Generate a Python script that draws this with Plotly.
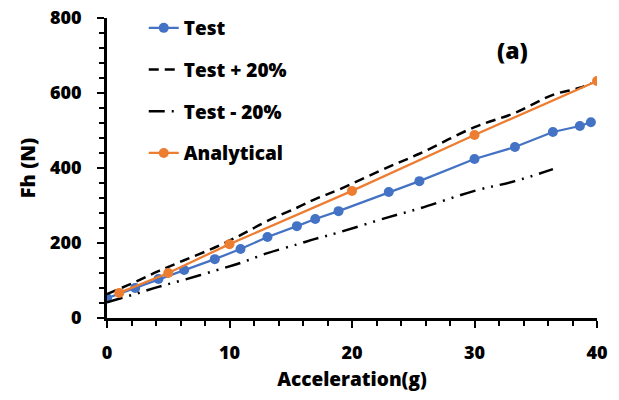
import plotly.graph_objects as go

# Horizontal force vs. acceleration
test_g = [0.0, 2.3, 4.2, 6.3, 8.8, 10.9, 13.1, 15.5, 17.0, 18.9, 23.0, 25.5, 30.0, 33.3, 36.4, 38.6, 39.5]
test_fh = [53, 80, 104, 128, 157, 184, 216, 245, 264, 285, 336, 365, 424, 456, 496, 512, 522]

plus_g = [0.0, 2.3, 4.2, 6.3, 8.8, 10.9, 13.1, 15.5, 17.0, 18.9, 23.0, 25.5, 30.0, 33.3, 36.4, 38.6, 39.5]
plus_fh = [64, 96, 125, 154, 188, 221, 259, 294, 317, 342, 403, 438, 509, 547, 595, 614, 626]

minus_g = [0.0, 2.3, 4.2, 6.3, 8.8, 10.9, 13.1, 15.5, 17.0, 18.9, 23.0, 25.5, 30.0, 33.3, 36.4]
minus_fh = [42, 64, 83, 102, 126, 147, 173, 196, 211, 228, 269, 292, 339, 365, 397]

ana_g = [1, 5, 10, 20, 30, 40]
ana_fh = [67, 120, 197, 339, 488, 632]

x_ticks = [0, 10, 20, 30, 40]
y_ticks = [0, 200, 400, 600, 800]

BLUE = "#4472C4"
ORANGE = "#ED7D31"
FONT = "Open Sans"
WEIGHT = 800

fig = go.Figure()
fig.add_trace(go.Scatter(x=test_g, y=test_fh, name="Test", mode="lines+markers",
                         line=dict(color=BLUE, width=2.25),
                         marker=dict(color=BLUE, size=10), legendgroup="a"))
fig.add_trace(go.Scatter(x=plus_g, y=plus_fh, name="Test + 20%", mode="lines",
                         line=dict(color="black", width=2.5, dash="10px,6px", shape="spline"),
                         legendgroup="b"))
fig.add_trace(go.Scatter(x=minus_g, y=minus_fh, name="Test - 20%", mode="lines",
                         line=dict(color="black", width=2.5,
                                   dash="16px,7px,2px,7px,2px,7px", shape="spline"),
                         legendgroup="c"))
fig.add_trace(go.Scatter(x=ana_g, y=ana_fh, name="Analytical", mode="lines+markers",
                         line=dict(color=ORANGE, width=2.25),
                         marker=dict(color=ORANGE, size=10), legendgroup="d"))

axis_common = dict(
    showline=True, linecolor="black", linewidth=2.5, showgrid=False, zeroline=False,
    ticks="outside", ticklen=7, tickwidth=2, tickcolor="black",
    tickfont=dict(family=FONT, size=18, color="black", weight=WEIGHT),
)

fig.update_xaxes(range=[0, 40], tickvals=x_ticks, ticklabelstandoff=10,
                 minor=dict(dtick=2, ticks="outside", ticklen=5, tickwidth=2, tickcolor="black"),
                 title=dict(text="Acceleration(g)", standoff=10,
                            font=dict(family=FONT, size=19, color="black", weight=WEIGHT)),
                 **axis_common)
fig.update_yaxes(range=[0, 800], tickvals=y_ticks, ticklabelstandoff=12,
                 minor=dict(dtick=40, ticks="outside", ticklen=5, tickwidth=2, tickcolor="black"),
                 title=dict(text="Fh (N)", standoff=10,
                            font=dict(family=FONT, size=20, color="black", weight=WEIGHT)),
                 **axis_common)

fig.add_annotation(text="(a)", x=0.827, y=0.893, xref="paper", yref="paper",
                   xanchor="center", yanchor="middle",
                   showarrow=False, font=dict(family=FONT, size=23, color="black", weight=WEIGHT))

fig.update_layout(
    width=619, height=400,
    margin=dict(l=107, r=22, t=18, b=82, autoexpand=False),
    plot_bgcolor="white", paper_bgcolor="white",
    showlegend=True,
    legend=dict(x=0.075, y=1.03, xanchor="left", yanchor="top",
                traceorder="grouped", tracegroupgap=14,
                bgcolor="rgba(0,0,0,0)",
                font=dict(family=FONT, size=19, color="black", weight=WEIGHT)),
)

fig.write_html("out.html")
